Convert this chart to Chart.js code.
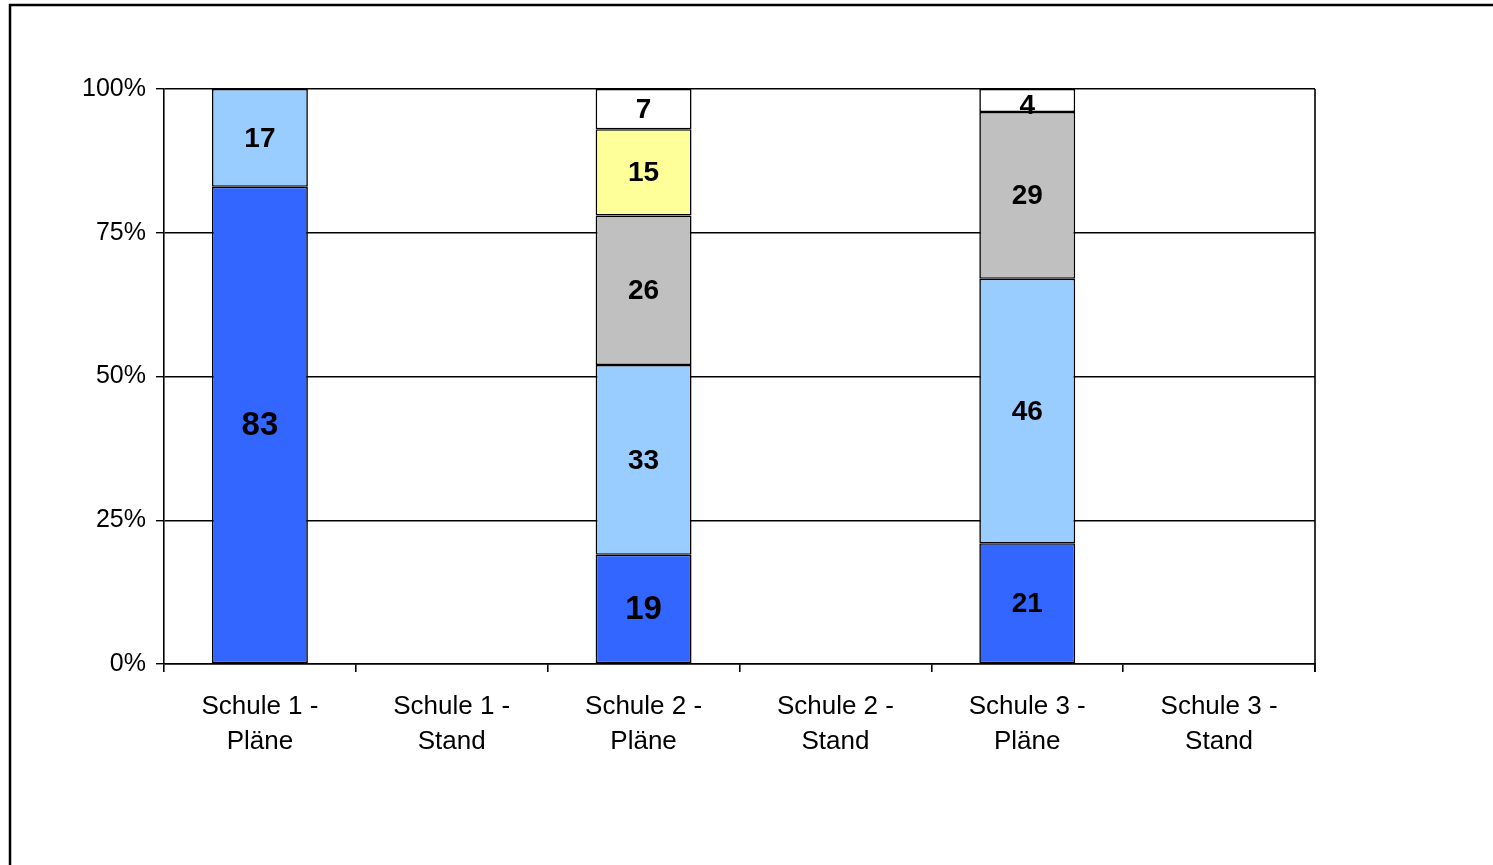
<!DOCTYPE html>
<html>
<head>
<meta charset="utf-8">
<script src="https://cdn.jsdelivr.net/npm/chart.js@4/dist/chart.umd.min.js"></script>
<style>
  html, body { margin: 0; padding: 0; background: #fff; }
  #wrap { width: 1493px; height: 865px; position: relative; }
</style>
</head>
<body>
<div id="wrap"><canvas id="c" width="1493" height="865"></canvas></div>
<script>
// Categories (two-line axis labels)
const categories = [
  ['Schule 1 -', 'Pläne'],
  ['Schule 1 -', 'Stand'],
  ['Schule 2 -', 'Pläne'],
  ['Schule 2 -', 'Stand'],
  ['Schule 3 -', 'Pläne'],
  ['Schule 3 -', 'Stand']
];

// Shares per answer level (percent), bottom to top of each stack
const stufe1 = [83, null, 19, null, 21, null];
const stufe2 = [17, null, 33, null, 46, null];
const stufe3 = [null, null, 26, null, 29, null];
const stufe4 = [null, null, 15, null, null, null];
const stufe5 = [null, null, 7, null, 4, null];

const yTicks = [0, 25, 50, 75, 100];

const seriesColors = ['#3366FF', '#99CCFF', '#C0C0C0', '#FFFF99', '#FFFFFF'];
// Label font size per segment (dataset index -> per category)
const labelSizes = [
  [33, 28, 33, 28, 28, 28],
  [28, 28, 28, 28, 28, 28],
  [28, 28, 28, 28, 28, 28],
  [28, 28, 28, 28, 28, 28],
  [28, 28, 28, 28, 28, 28]
];

const seriesData = [stufe1, stufe2, stufe3, stufe4, stufe5];
const seriesNames = ['Stufe 1', 'Stufe 2', 'Stufe 3', 'Stufe 4', 'Stufe 5'];

const datasets = seriesData.map((d, i) => ({
  label: seriesNames[i],
  data: d,
  backgroundColor: seriesColors[i],
  borderColor: '#000',
  borderWidth: 1.6,
  borderSkipped: false,
  categoryPercentage: 0.5,
  barPercentage: 1.0
}));

// Value labels centred in each segment
const segmentLabels = {
  id: 'segmentLabels',
  afterDatasetsDraw(chart) {
    const ctx = chart.ctx;
    ctx.save();
    ctx.fillStyle = '#000';
    ctx.textAlign = 'center';
    ctx.textBaseline = 'middle';
    chart.data.datasets.forEach((ds, di) => {
      const meta = chart.getDatasetMeta(di);
      meta.data.forEach((bar, i) => {
        const v = ds.data[i];
        if (v == null) return;
        const size = labelSizes[di][i];
        ctx.font = 'bold ' + size + 'px "Liberation Sans", Arial, sans-serif';
        const h = Math.abs(bar.base - bar.y);
        const yc = (bar.y + bar.base) / 2 + (h < 30 ? 6 : 1);
        ctx.fillText(String(v), bar.x, yc);
      });
    });
    ctx.restore();
  }
};

// Right edge of the plot area and the outer frame
const frame = {
  id: 'frame',
  afterDraw(chart) {
    const ctx = chart.ctx;
    const a = chart.chartArea;
    ctx.save();
    ctx.strokeStyle = '#000';
    ctx.lineWidth = 1.6;
    ctx.beginPath();
    ctx.moveTo(a.right, a.top);
    ctx.lineTo(a.right, a.bottom + 8);
    ctx.stroke();
    ctx.lineWidth = 2.5;
    ctx.beginPath();
    ctx.moveTo(10, chart.height);
    ctx.lineTo(10, 5);
    ctx.lineTo(chart.width, 5);
    ctx.stroke();
    ctx.restore();
  }
};

new Chart(document.getElementById('c'), {
  type: 'bar',
  data: { labels: categories, datasets },
  plugins: [segmentLabels, frame],
  options: {
    responsive: false,
    animation: false,
    events: [],
    layout: { padding: { left: 0, top: 89, right: 178, bottom: 0 } },
    plugins: { legend: { display: false }, tooltip: { enabled: false } },
    scales: {
      x: {
        stacked: true,
        afterFit(s) { s.height = 201; },
        grid: {
          offset: true,
          drawOnChartArea: false,
          drawTicks: true,
          tickLength: 8,
          color: '#000',
          lineWidth: 1.6
        },
        border: { display: true, color: '#000', width: 1.6 },
        ticks: {
          color: '#000',
          padding: 17,
          maxRotation: 0,
          autoSkip: false,
          font: { family: '"Liberation Sans", Arial, sans-serif', size: 26, lineHeight: 1.35 }
        }
      },
      y: {
        stacked: true,
        min: 0,
        max: 100,
        afterFit(s) { s.width = 164; },
        afterBuildTicks(s) { s.ticks = yTicks.map(v => ({ value: v })); },
        grid: {
          color: '#000',
          lineWidth: 1.4,
          tickLength: 8
        },
        border: { display: true, color: '#000', width: 1.6 },
        ticks: {
          color: '#000',
          padding: 10,
          font: { family: '"Liberation Sans", Arial, sans-serif', size: 25 },
          callback: v => v + '%'
        }
      }
    }
  }
});
</script>
</body>
</html>
